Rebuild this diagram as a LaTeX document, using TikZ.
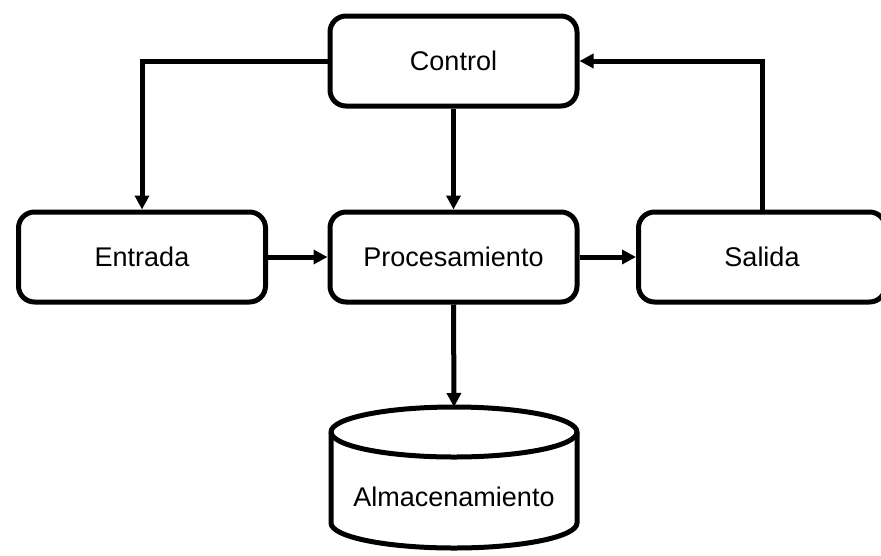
\documentclass[tikz,border=0pt]{standalone}
\usepackage{fontspec}
\setmainfont{Liberation Sans}
\usetikzlibrary{arrows.meta}
\begin{document}
\begin{tikzpicture}[x=1pt,y=1pt,
  box/.style={draw, line width=5pt, rounded corners=16pt, minimum width=247pt, minimum height=90pt, inner sep=0pt, font=\fontsize{27}{30}\selectfont, fill=white},
  conn/.style={line width=5pt, -{Triangle[length=14pt,width=14pt]}},
  lbl/.style={font=\fontsize{27}{30}\selectfont, inner sep=0pt}]
\useasboundingbox (0,0) rectangle (881,-555);
\node[box] (ctrl) at (453.5,-61) {Control};
\node[box] (ent) at (142,-257) {Entrada};
\node[box] (proc) at (453.5,-257) {Procesamiento};
\node[box] (sal) at (762,-257) {Salida};
% cylinder
\draw[line width=5pt, fill=white] (331,-432) -- (331,-523)
  arc[start angle=180, end angle=360, x radius=123, y radius=25]
  -- (577,-432)
  arc[start angle=0, end angle=180, x radius=123, y radius=25] -- cycle;
\draw[line width=5pt] (331,-432) arc[start angle=180, end angle=360, x radius=123, y radius=25];
\coordinate (almtop) at (454,-407);
\node[lbl] (alm) at (454,-497) {Almacenamiento};
% connectors
\draw[conn] (ctrl.west) -| (ent.north);
\draw[conn] (ctrl.south) -- (proc.north);
\draw[conn] (ent.east) -- (proc.west);
\draw[conn] (proc.east) -- (sal.west);
\draw[conn] (sal.north) |- (ctrl.east);
\draw[conn] (proc.south) -- (almtop);
\end{tikzpicture}
\end{document}
